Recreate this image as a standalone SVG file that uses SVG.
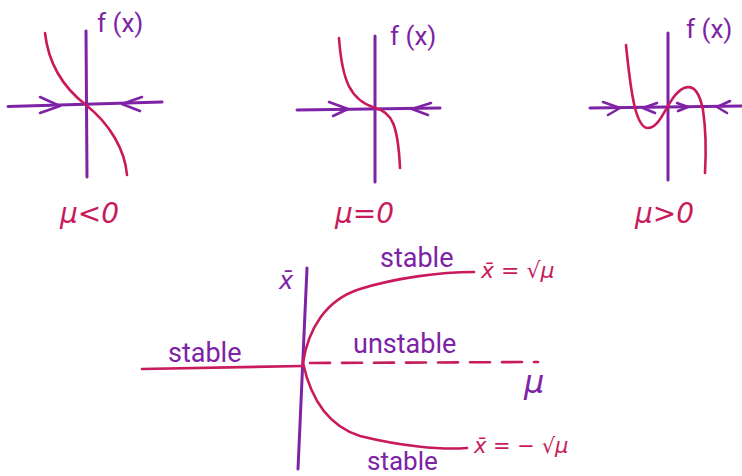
<svg xmlns="http://www.w3.org/2000/svg" width="742" height="476" viewBox="0 0 742 476">
<style>
.ax{stroke:#7E22A6;stroke-width:3;fill:none;stroke-linecap:round;stroke-linejoin:round}
.cv{stroke:#C81A5C;stroke-width:2.6;fill:none;stroke-linecap:round;stroke-linejoin:round}
.ar{stroke:#7E22A6;stroke-width:2.6;fill:none;stroke-linecap:round;stroke-linejoin:round}
.lbl{font-family:Roboto,"Liberation Sans",sans-serif;fill:#7E22A6;font-size:27px}
.fx{font-family:Roboto,"Liberation Sans",sans-serif;fill:#7E22A6;font-size:26px}
.hw{font-family:"DejaVu Sans","Liberation Sans",sans-serif;font-style:italic;fill:#C81A5C;font-size:28px}
.hwp{font-family:"DejaVu Sans","Liberation Sans",sans-serif;font-style:italic;fill:#7E22A6;font-size:32px}
</style>
<rect width="742" height="476" fill="#ffffff"/>

<g id="plot-mu-neg">
<line class="ax" x1="8" y1="106.5" x2="162" y2="102"/>
<line class="ax" x1="86" y1="31" x2="87" y2="177"/>
<path class="cv" d="M45,33 C48,60 60,85 86,105 C110,124 125,150 127,175"/>
<polyline class="ar" points="40,97 60,106 40,113"/>
<polyline class="ar" points="142,97 122,104 140,111"/>
<text class="fx" x="97" y="32">f (x)</text>
<text class="hw" x="60" y="223">μ&lt;0</text>
</g>

<g id="plot-mu-zero">
<line class="ax" x1="297" y1="110" x2="440" y2="108"/>
<line class="ax" x1="375" y1="36" x2="375" y2="182"/>
<path class="cv" d="M339,38 C342,80 350,100 375,108 C392,112 398,125 400,168"/>
<polyline class="ar" points="329,102 348,109 333,116"/>
<polyline class="ar" points="431,103 412,109 428,115"/>
<text class="fx" x="390" y="45">f (x)</text>
<text class="hw" x="335" y="223">μ=0</text>
</g>

<g id="plot-mu-pos">
<line class="ax" x1="590" y1="108" x2="742" y2="106"/>
<line class="ax" x1="668" y1="33" x2="668" y2="180"/>
<path class="cv" d="M626,45 C631,95 636,128 648,128 C662,128 668,95 684,88 C695,84 700,95 703,110 C706,130 706,155 705,173"/>
<polyline class="ar" points="603,102 620,108 608,115"/>
<polyline class="ar" points="657,103 643,108 655,113"/>
<polyline class="ar" points="677,103 688,107 678,111"/>
<polyline class="ar" points="730,101 717,107 727,113"/>
<text class="fx" x="686" y="38">f (x)</text>
<text class="hw" x="635" y="223">μ&gt;0</text>
</g>

<g id="bifurcation-axes">
<line class="ax" x1="307" y1="268" x2="298" y2="469"/>
<text class="hwp" x="279" y="289" style="font-size:24px">x̄</text>
<text class="hwp" x="524" y="393">μ</text>
</g>

<g id="branches">
<line class="cv" x1="142" y1="369" x2="303" y2="366"/>
<path class="cv" d="M303,363 C308,330 325,300 360,289 C395,278 440,272 474,272"/>
<path class="cv" d="M303,363 C310,395 325,425 360,436 C400,446 440,450 467,448"/>
<line class="cv" x1="310" y1="363" x2="538" y2="362" stroke-dasharray="20 12"/>
</g>

<g id="labels">
<text class="lbl" x="168" y="362">stable</text>
<text class="lbl" x="380" y="267">stable</text>
<text class="lbl" x="353" y="353">unstable</text>
<text class="lbl" x="367" y="470" style="font-size:26px">stable</text>
<text class="hw" x="481" y="278" style="font-size:22px">x̄ = √μ</text>
<text class="hw" x="474" y="453" style="font-size:21px">x̄ = − √μ</text>
</g>
</svg>
